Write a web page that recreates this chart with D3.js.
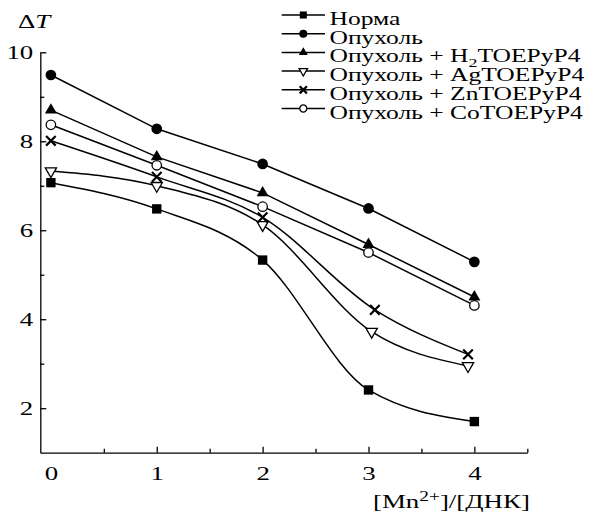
<!DOCTYPE html>
<html>
<head>
<meta charset="utf-8">
<script src="https://cdn.jsdelivr.net/npm/d3@7"></script>
<style>
  body { margin: 0; background: #fff; }
  svg { display: block; }
  svg text { font-family: "Liberation Serif", "Times New Roman", serif; fill: #000; }
</style>
</head>
<body>
<div id="chart"></div>
<script>
// x values: [Mn2+]/[DNA]
var conc = [0, 1, 2, 3, 4],
    concAg = [0, 1, 2, 3.03, 3.94],
    concZn = [0, 1, 2, 3.06, 3.94];

// delta T values
var norma = [7.07, 6.48, 5.33, 2.41, 1.70],
    tumor = [9.49, 8.28, 7.49, 6.49, 5.29],
    tumorH2 = [8.70, 7.65, 6.84, 5.68, 4.50],
    tumorAg = [7.33, 7.00, 6.12, 3.72, 2.95],
    tumorZn = [8.01, 7.20, 6.29, 4.21, 3.21],
    tumorCo = [8.37, 7.46, 6.53, 5.50, 4.31];

var xTicks = [0, 1, 2, 3, 4],
    xMinor = [0.5, 1.5, 2.5, 3.5, 4.5],
    yTicks = [2, 4, 6, 8, 10],
    yMinor = [3, 5, 7, 9];

var series = [
  {name: 'Норма', sub: null, x: conc, y: norma, marker: 'square', smooth: true},
  {name: 'Опухоль', sub: null, x: conc, y: tumor, marker: 'circle', smooth: false},
  {name: ['Опухоль + H', '2', 'TOEPyP4'], sub: true, x: conc, y: tumorH2, marker: 'triangle', smooth: false},
  {name: 'Опухоль + AgTOEPyP4', sub: null, x: concAg, y: tumorAg, marker: 'triangleDown', smooth: true},
  {name: 'Опухоль + ZnTOEPyP4', sub: null, x: concZn, y: tumorZn, marker: 'cross', smooth: true},
  {name: 'Опухоль + CoTOEPyP4', sub: null, x: conc, y: tumorCo, marker: 'openCircle', smooth: false}
];

var width = 594,
    height = 512,
    sx = 1.38, //the lettering in the figure is stretched sideways
    serif = '"Liberation Serif", "Times New Roman", serif';

var svg = d3.select('#chart').append('svg')
    .attr('width', width)
    .attr('height', height);

var x = d3.scaleLinear().domain([-0.1, 4.5]).range([40.3, 527.3]);
var y = d3.scaleLinear().domain([1, 10]).range([452.7, 52.3]);

//AXES
var xAxis = svg.append('g')
    .attr('transform', 'translate(0,' + y(1) + ')')
    .call(d3.axisBottom(x).tickValues(xTicks).tickSize(-6).tickSizeOuter(0)
      .tickPadding(13).tickFormat(d3.format('d')));
xAxis.selectAll('.tick').filter(function(d){ return d === 0; }).select('line').remove();

svg.append('g')
    .attr('transform', 'translate(0,' + y(1) + ')')
    .call(d3.axisBottom(x).tickValues(xMinor).tickSize(-4).tickSizeOuter(0).tickFormat(''))
    .select('.domain').remove();

var yAxis = svg.append('g')
    .attr('transform', 'translate(' + x(-0.1) + ',0)')
    .call(d3.axisLeft(y).tickValues(yTicks).tickSize(-6).tickSizeOuter(0)
      .tickPadding(8).tickFormat(d3.format('d')));
yAxis.selectAll('.tick text').attr('x', -7 / sx);

svg.append('g')
    .attr('transform', 'translate(' + x(-0.1) + ',0)')
    .call(d3.axisLeft(y).tickValues(yMinor).tickSize(-4).tickSizeOuter(0).tickFormat(''))
    .select('.domain').remove();

svg.selectAll('g').attr('font-family', serif);
svg.selectAll('.domain, .tick line')
    .attr('stroke', '#000')
    .attr('stroke-width', 1.3);
svg.selectAll('.tick text')
    .attr('font-size', 19.5)
    .attr('transform', 'scale(' + sx + ',1)');

//axis titles
var yTitle = svg.append('text')
    .attr('transform', 'translate(18,28) scale(' + sx + ',1)')
    .attr('font-size', 19.5);
yTitle.append('tspan').text('Δ');
yTitle.append('tspan').style('font-style', 'italic').text('T');

var xTitle = svg.append('text')
    .attr('transform', 'translate(373,508) scale(' + sx + ',1)')
    .attr('font-size', 19.5);
xTitle.append('tspan').text('[Mn');
xTitle.append('tspan').attr('dy', -7).attr('font-size', 14).text('2+');
xTitle.append('tspan').attr('dy', 7).text(']/[ДНК]');

//MARKERS
function drawMarker(g, type, scale) {
  var s = scale || 1;
  if (type === 'square') {
    g.append('path').attr('d', d3.symbol(d3.symbolSquare, 88 * s * s)())
      .attr('fill', '#000');
  } else if (type === 'circle') {
    g.append('path').attr('d', d3.symbol(d3.symbolCircle, 90 * s * s)())
      .attr('fill', '#000');
  } else if (type === 'openCircle') {
    g.append('path').attr('d', d3.symbol(d3.symbolCircle, 70 * s * s)())
      .attr('fill', '#fff').attr('stroke', '#000').attr('stroke-width', 1.3);
  } else if (type === 'triangle') {
    g.append('path').attr('d', d3.symbol(d3.symbolTriangle, 62 * s * s)())
      .attr('fill', '#000');
  } else if (type === 'triangleDown') {
    g.append('path').attr('d', d3.symbol(d3.symbolTriangle, 55 * s * s)())
      .attr('transform', 'rotate(180)')
      .attr('fill', '#fff').attr('stroke', '#000').attr('stroke-width', 1.3);
  } else if (type === 'cross') {
    var r = 4.8 * s;
    g.append('path').attr('d', 'M' + -r + ',' + -r + 'L' + r + ',' + r + 'M' + -r + ',' + r + 'L' + r + ',' + -r)
      .attr('stroke', '#000').attr('stroke-width', 2.2).attr('fill', 'none');
  }
}

//LINES
series.forEach(function(s){
  var pts = s.x.map(function(v, i){ return [v, s.y[i]]; });
  var line = d3.line()
      .x(function(d){ return x(d[0]); })
      .y(function(d){ return y(d[1]); })
      .curve(s.smooth ? d3.curveMonotoneX : d3.curveLinear);

  svg.append('path')
      .datum(pts)
      .attr('d', line)
      .attr('fill', 'none')
      .attr('stroke', '#000')
      .attr('stroke-width', 1.5);
});

series.forEach(function(s){
  s.x.forEach(function(v, i){
    var g = svg.append('g')
        .attr('transform', 'translate(' + x(v) + ',' + y(s.y[i]) + ')');
    drawMarker(g, s.marker);
  });
});

//LEGEND
var legend = svg.append('g');
series.forEach(function(s, i){
  var ly = 15 + i * 18.7;
  var row = legend.append('g').attr('transform', 'translate(0,' + ly + ')');
  row.append('line')
      .attr('x1', 281.7).attr('x2', 325)
      .attr('stroke', '#000').attr('stroke-width', 1.5);
  var m = row.append('g').attr('transform', 'translate(303.3,0)');
  drawMarker(m, s.marker, 0.75);

  var t = row.append('text')
      .attr('transform', 'translate(329.5,10) scale(' + sx + ',1)')
      .attr('font-size', 18.5);
  if (s.sub) {
    t.append('tspan').text(s.name[0]);
    t.append('tspan').attr('dy', 5).attr('font-size', 13).text(s.name[1]);
    t.append('tspan').attr('dy', -5).text(s.name[2]);
  } else {
    t.text(s.name);
  }
});
</script>
</body>
</html>
